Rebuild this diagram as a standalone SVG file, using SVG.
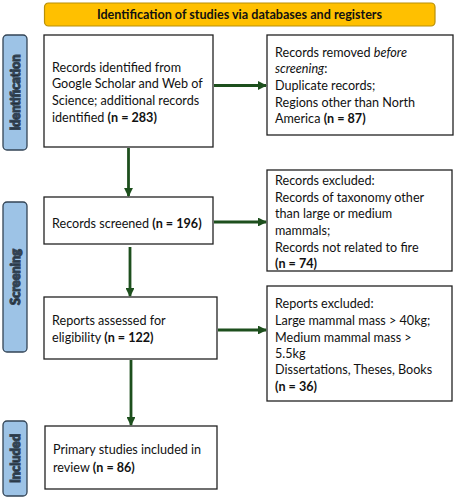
<svg xmlns="http://www.w3.org/2000/svg" width="455" height="500" viewBox="0 0 455 500">
<style>
text{font-family:Lato,"Open Sans","Liberation Sans",sans-serif;font-size:12.6px;fill:#111}
.b{font-weight:bold}
.box{fill:#fff;stroke:#222;stroke-width:1.3}
.side{fill:#9DC3E6;stroke:#334455;stroke-width:1.3}
.side text{font-weight:bold;font-size:12.8px;text-anchor:middle}
.con{stroke:#1D4F1D;stroke-width:2.8;fill:none;marker-end:url(#ah)}
</style>
<defs>
<marker id="ah" viewBox="0 0 10 10" refX="9" refY="5" markerWidth="3.2" markerHeight="3.2" orient="auto" markerUnits="strokeWidth">
<path d="M0,0L10,5L0,10z" fill="#1D4F1D"/>
</marker>
</defs>
<rect width="455" height="500" fill="#fff"/>
<g id="title">
<rect x="44.5" y="3" width="390.5" height="23" rx="4" fill="#FFC000" stroke="#B8900A" stroke-width="1.2"/>
<text x="239.5" y="19" class="b" text-anchor="middle" font-size="12.9">Identification of studies via databases and registers</text>
</g>
<g id="side-identification" class="side">
<rect x="3" y="35" width="24" height="115" rx="4"/>
<text transform="translate(19.8,92.5) rotate(-90)">Identification</text>
</g>
<g id="side-screening" class="side">
<rect x="3" y="202" width="24" height="150" rx="4"/>
<text transform="translate(19.8,277) rotate(-90)">Screening</text>
</g>
<g id="side-included" class="side">
<rect x="3" y="421" width="24" height="75" rx="4"/>
<text transform="translate(19.8,458.5) rotate(-90)">Included</text>
</g>
<g id="n-identified">
<rect class="box" x="44" y="35" width="169" height="112"/>
<text x="52" y="71.5">Records identified from</text>
<text x="52" y="88">Google Scholar and Web of</text>
<text x="52" y="104.5">Science; additional records</text>
<text x="52" y="121.5">identified <tspan class="b">(n = 283)</tspan></text>
</g>
<g id="n-removed">
<rect class="box" x="267" y="35" width="186" height="100"/>
<text x="275" y="56.5">Records removed <tspan font-style="italic">before</tspan></text>
<text x="275" y="73"><tspan font-style="italic">screening</tspan>:</text>
<text x="275" y="89.5">Duplicate records;</text>
<text x="275" y="106.5">Regions other than North</text>
<text x="275" y="123">America <tspan class="b">(n = 87)</tspan></text>
</g>
<g id="n-screened">
<rect class="box" x="44" y="197" width="169" height="47"/>
<text x="52" y="227.5">Records screened <tspan class="b">(n = 196)</tspan></text>
</g>
<g id="n-excluded">
<rect class="box" x="267" y="170" width="185" height="101"/>
<text x="275" y="184.5">Records excluded:</text>
<text x="275" y="201.5">Records of taxonomy other</text>
<text x="275" y="218">than large or medium</text>
<text x="275" y="234.5">mammals;</text>
<text x="275" y="251.5">Records not related to fire</text>
<text x="275" y="267.5" class="b">(n = 74)</text>
</g>
<g id="n-eligibility">
<rect class="box" x="44" y="297" width="173" height="62"/>
<text x="52" y="324.5">Reports assessed for</text>
<text x="52" y="341.5">eligibility <tspan class="b">(n = 122)</tspan></text>
</g>
<g id="n-reports-excluded">
<rect class="box" x="267" y="286" width="185" height="115"/>
<text x="275" y="307.5">Reports excluded:</text>
<text x="275" y="324.5">Large mammal mass &gt; 40kg;</text>
<text x="275" y="341.5">Medium mammal mass &gt;</text>
<text x="275" y="357.5">5.5kg</text>
<text x="275" y="374">Dissertations, Theses, Books</text>
<text x="275" y="390.5" class="b">(n = 36)</text>
</g>
<g id="n-included">
<rect class="box" x="45" y="426" width="172" height="63"/>
<text x="53" y="453.5">Primary studies included in</text>
<text x="53" y="471.5">review <tspan class="b">(n = 86)</tspan></text>
</g>
<g id="connectors">
<line class="con" x1="214" y1="85.5" x2="266" y2="85.5"/>
<line class="con" x1="128.5" y1="148" x2="128.5" y2="196"/>
<line class="con" x1="214" y1="222" x2="266" y2="222"/>
<line class="con" x1="130" y1="247" x2="130" y2="296"/>
<line class="con" x1="218" y1="330" x2="266" y2="330"/>
<line class="con" x1="131" y1="360" x2="131" y2="425"/>
</g>
</svg>
